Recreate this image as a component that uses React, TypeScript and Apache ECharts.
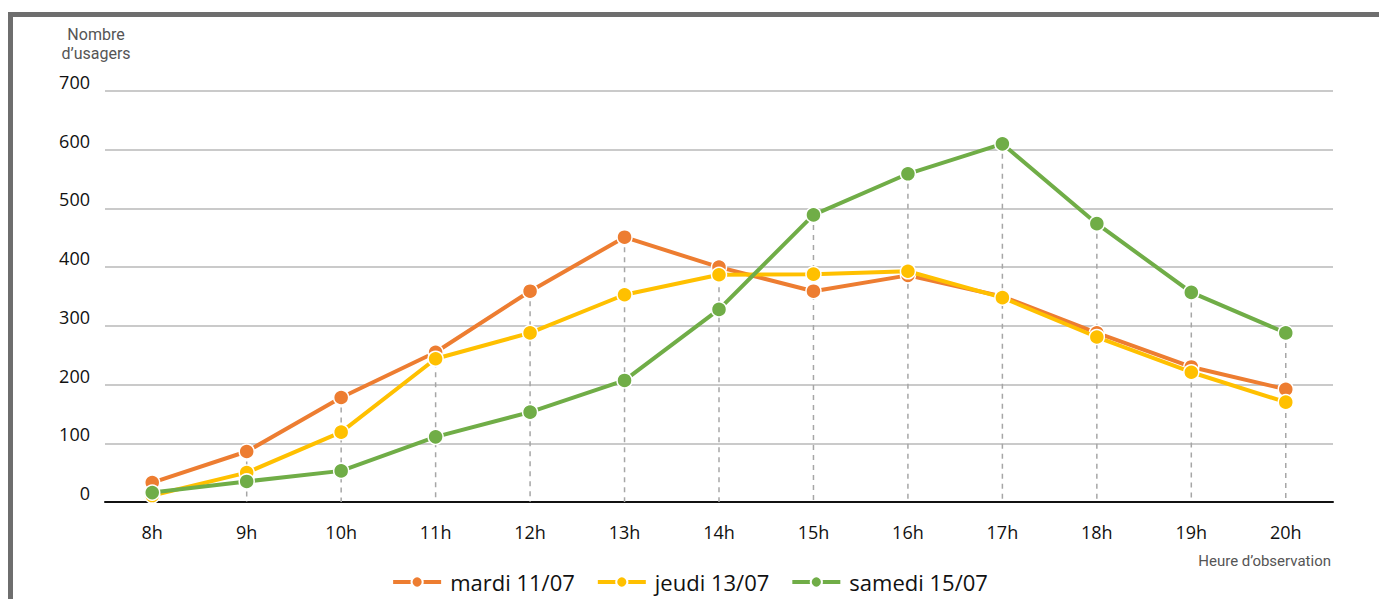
import React, { useEffect, useRef } from "react";
import * as echarts from "echarts";

const categories = ["8h", "9h", "10h", "11h", "12h", "13h", "14h", "15h", "16h", "17h", "18h", "19h", "20h"];
const mardi = [33, 86, 178, 255, 359, 451, 400, 359, 386, 350, 288, 230, 192];
const jeudi = [11, 50, 119, 244, 288, 353, 387, 388, 393, 348, 281, 221, 170];
const samedi = [16, 35, 53, 111, 153, 207, 328, 489, 559, 610, 474, 357, 288];
const seriesNames = ["mardi 11/07", "jeudi 13/07", "samedi 15/07"];
const colors = ["#ED7D31", "#FFC000", "#70AD47"];

const FONT = "'Open Sans', 'Noto Sans', sans-serif";
const NARROW = "'Roboto', 'Liberation Sans', sans-serif";

export default function App() {
  const ref = useRef<HTMLDivElement>(null);
  useEffect(() => {
    if (!ref.current) return;
    const chart = echarts.init(ref.current, undefined, { renderer: "svg" });
    const maxVals = categories.map((_, i) => Math.max(mardi[i], jeudi[i], samedi[i]));
    const mkLine = (name: string, data: number[], color: string, z: number) => ({
      name,
      type: "line",
      data,
      z,
      symbol: "circle",
      symbolSize: 15,
      lineStyle: { color, width: 4 },
      itemStyle: { color, borderColor: "#ffffff", borderWidth: 1.5 },
      emphasis: { disabled: true },
    });
    chart.setOption({
      animation: false,
      backgroundColor: "#ffffff",
      grid: { left: 105, right: 46, top: 91, bottom: 97, containLabel: false },
      legend: {
        bottom: 1,
        left: "center",
        itemWidth: 48,
        itemHeight: 14,
        itemGap: 21,
        data: seriesNames,
        lineStyle: { width: 4 },
        textStyle: { fontFamily: FONT, fontSize: 22, color: "#111", padding: [0, 0, 0, 4] },
      },
      xAxis: {
        type: "category",
        data: categories,
        boundaryGap: true,
        axisLine: { show: true, lineStyle: { color: "#111", width: 2 } },
        axisTick: { show: false },
        axisLabel: { fontFamily: FONT, fontSize: 18, color: "#111", margin: 21 },
        splitLine: { show: false },
      },
      yAxis: {
        type: "value",
        min: 0,
        max: 700,
        interval: 100,
        axisLine: { show: false },
        axisTick: { show: false },
        axisLabel: {
          fontFamily: FONT,
          fontSize: 18,
          color: "#111",
          margin: 15,
          verticalAlign: "bottom",
        },
        splitLine: { lineStyle: { color: "#b8b8b8", width: 1.5 } },
      },
      graphic: [
        {
          type: "rect",
          shape: { x: 10.5, y: 14.5, width: 1500, height: 800 },
          style: { fill: "none", stroke: "#6e6e6e", lineWidth: 5 },
          silent: true,
        },
        {
          type: "text",
          x: 96,
          y: 25,
          style: {
            text: "Nombre\nd’usagers",
            fontFamily: NARROW,
            fontSize: 16,
            lineHeight: 19,
            fill: "#555",
            align: "center",
            verticalAlign: "top",
          },
        },
        {
          type: "text",
          x: 1331,
          y: 553,
          style: {
            text: "Heure d’observation",
            fontFamily: NARROW,
            fontSize: 15,
            fill: "#555",
            align: "right",
            verticalAlign: "top",
          },
        },
      ],
      series: [
        {
          type: "custom",
          name: "drop",
          z: 1,
          silent: true,
          data: maxVals.map((v, i) => [i, v]),
          renderItem: (params: any, api: any) => {
            const top = api.coord([api.value(0), api.value(1)]);
            const bot = api.coord([api.value(0), 0]);
            return {
              type: "line",
              shape: { x1: top[0], y1: top[1], x2: bot[0], y2: bot[1] },
              style: { stroke: "#a6a6a6", lineWidth: 1.5, lineDash: [5, 5] },
            };
          },
        },
        mkLine(seriesNames[0], mardi, colors[0], 3),
        mkLine(seriesNames[1], jeudi, colors[1], 4),
        mkLine(seriesNames[2], samedi, colors[2], 5),
      ],
    });
    return () => chart.dispose();
  }, []);
  return <div ref={ref} style={{ position: "fixed", left: 0, top: 0, width: 1379, height: 599 }} />;
}
